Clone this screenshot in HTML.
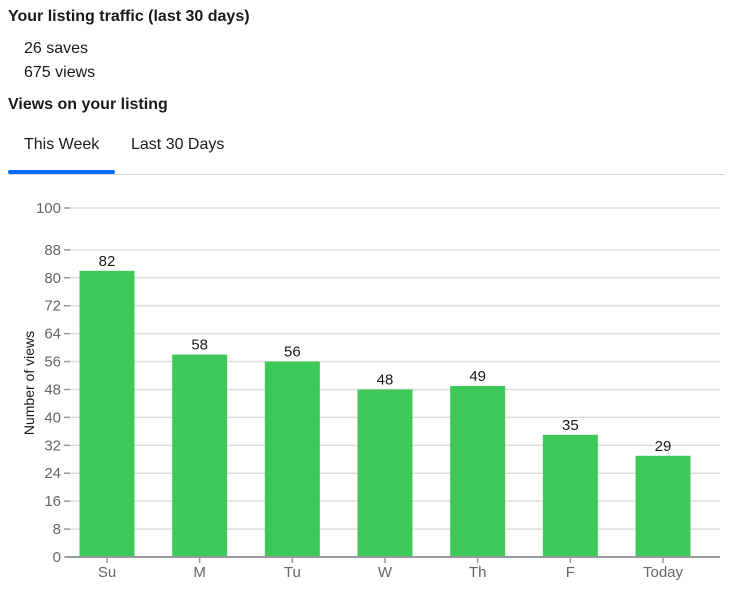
<!DOCTYPE html>
<html><head><meta charset="utf-8"><style>
body{margin:0;width:731px;height:589px;background:#fff;font-family:"Liberation Sans",sans-serif;color:#1a1a1a;position:relative;overflow:hidden}
.a{position:absolute;white-space:nowrap}
</style></head><body>
<div class="a" style="left:8px;top:8px;font-size:16px;font-weight:bold">Your listing traffic (last 30 days)</div>
<div class="a" style="left:24px;top:40px;font-size:16px">26 saves</div>
<div class="a" style="left:24px;top:64px;font-size:16px">675 views</div>
<div class="a" style="left:8px;top:96px;font-size:16px;font-weight:bold">Views on your listing</div>
<div class="a" style="left:24px;top:136px;font-size:16px">This Week</div>
<div class="a" style="left:131px;top:136px;font-size:16px">Last 30 Days</div>
<div class="a" style="left:8px;top:174px;width:717px;height:1px;background:#d8d8d8"></div>
<div class="a" style="left:8px;top:170px;width:107px;height:4px;background:#0a6cf0;border-radius:2px"></div>
<svg class="a" style="left:0;top:0" width="731" height="589">
<g id="grid"></g><g id="bars"></g><g id="axes"></g>
<text x="34" y="383" transform="rotate(-90 34 383)" text-anchor="middle" font-size="14" fill="#1a1a1a" font-family="Liberation Sans, sans-serif">Number of views</text>
</svg>
<script>
const categories=["Su","M","Tu","W","Th","F","Today"];
const values=[82,58,56,48,49,35,29];
const yTicks=[0,8,16,24,32,40,48,56,64,72,80,88,100];
const NS="http://www.w3.org/2000/svg";
function y(v){return 557-v*(557-208)/100;}
function x(i){return 107+i*92.67;}
function mk(t,a,p){const e=document.createElementNS(NS,t);for(const k in a)e.setAttribute(k,a[k]);document.getElementById(p).appendChild(e);return e;}
yTicks.forEach(v=>{
  const g=mk("line",{x1:70,x2:720,y1:y(v),y2:y(v),stroke:"#ddd","stroke-width":1.5},"grid");
  
  
  mk("line",{x1:64,x2:70,y1:y(v),y2:y(v),stroke:"#999","stroke-width":1.5},"axes");
  const t=mk("text",{x:61,y:y(v)+5,"text-anchor":"end","font-size":15,fill:"#666"},"axes");
  t.textContent=v;
  
  
});
values.forEach((v,i)=>{
  const r=mk("rect",{x:x(i)-27.5,y:y(v),width:55,height:557-y(v),fill:"#3cc95a"},"bars");
  
  
  const l=mk("text",{x:x(i),y:y(v)-5,"text-anchor":"middle","font-size":15,fill:"#1a1a1a"},"bars");
  l.textContent=v;
  
  
  mk("line",{x1:x(i),x2:x(i),y1:557,y2:563,stroke:"#999","stroke-width":1.5},"axes");
  const c=mk("text",{x:x(i),y:577,"text-anchor":"middle","font-size":15,fill:"#666"},"axes");
  c.textContent=categories[i];
  
  
});
const ax=mk("line",{x1:66,x2:720,y1:557,y2:557,stroke:"#999","stroke-width":2},"axes");


</script>
</body></html>
